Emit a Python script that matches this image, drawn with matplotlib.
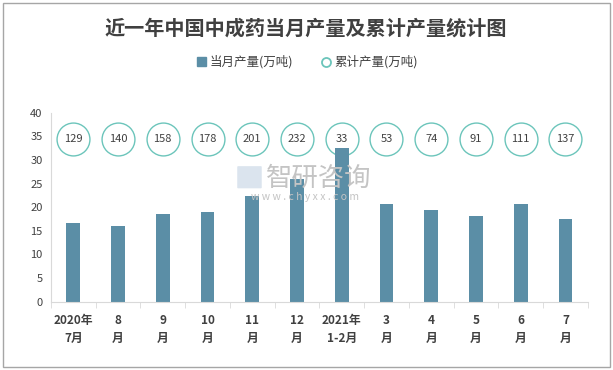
import matplotlib.pyplot as plt
import matplotlib.patches as mpatches
import numpy as np

plt.rcParams['font.family'] = ['Noto Sans CJK SC', 'DejaVu Sans']

# ── Data ──────────────────────────────────────────────────────────────────────
months = ['2020年\n7月', '8\n月', '9\n月', '10\n月', '11\n月', '12\n月',
          '2021年\n1-2月', '3\n月', '4\n月', '5\n月', '6\n月', '7\n月']
monthly = [16.7, 16.0, 18.6, 19.0, 22.3, 26.0, 32.6, 20.7, 19.4, 18.2, 20.7, 17.5]
cumulative = [129, 140, 158, 178, 201, 232, 33, 53, 74, 91, 111, 137]

BAR = '#5b8ea6'
RING = '#6cc5bb'
TXT = '#404040'

fig = plt.figure(figsize=(6.13, 3.70), dpi=100, facecolor='white')
fig.patches.append(mpatches.Rectangle((0.005, 0.008), 0.99, 0.984, transform=fig.transFigure,
                                      fill=False, edgecolor='#a6a6a6', linewidth=1))

# watermark (behind the plot)
fig.patches.append(mpatches.FancyBboxPatch((0.389, 0.493), 0.036, 0.056, transform=fig.transFigure,
                                           boxstyle='round,pad=0.002', facecolor='#d3deea',
                                           edgecolor='none', alpha=0.8))
fig.text(0.434, 0.518, '智研咨询', ha='left', va='center', fontsize=19, color='#c4c4c4')
fig.text(0.497, 0.467, 'w w w . c h y x x . c o m', ha='center', va='center', fontsize=7.5,
         color='#c4c4c4')

ax = fig.add_axes([0.083, 0.185, 0.876, 0.51])
ax.patch.set_alpha(0)
x = np.arange(len(months))
ax.scatter(x, [34.5] * len(x), s=560, facecolor='white', edgecolor=RING, linewidth=1, zorder=1)
ax.bar(x, monthly, width=0.31, color=BAR, zorder=2)
for xi, v in zip(x, cumulative):
    ax.text(xi, 34.5, str(v), ha='center', va='center', fontsize=8, color=TXT, zorder=4)

ax.set_xlim(-0.5, len(months) - 0.5)
ax.set_ylim(0, 40)
ax.set_yticks(range(0, 41, 5))
ax.tick_params(axis='y', length=0, labelsize=8, labelcolor=TXT, pad=6)
ax.set_xticks(x)
ax.set_xticklabels(months, fontsize=8.5, fontweight='bold', color=TXT, linespacing=1.45)
ax.set_xticks(np.arange(-0.5, len(months)), minor=True)
ax.tick_params(axis='x', which='major', length=0, pad=9)
ax.tick_params(axis='x', which='minor', length=4, color='#d9d9d9')
for sp in ['top', 'right']:
    ax.spines[sp].set_visible(False)
ax.spines['left'].set_color('#d9d9d9')
ax.spines['bottom'].set_color('#d9d9d9')

# title & legend
fig.text(0.499, 0.925, '近一年中国中成药当月产量及累计产量统计图', ha='center', va='center',
         fontsize=14.5, fontweight='bold', color=TXT)
handles = [mpatches.Patch(color=BAR, label='当月产量(万吨)'),
           plt.Line2D([], [], marker='o', linestyle='none', markerfacecolor='white',
                      markeredgecolor=RING, markeredgewidth=1.3, markersize=6.5,
                      label='累计产量(万吨)')]
fig.legend(handles=handles, loc='center', bbox_to_anchor=(0.502, 0.832), ncol=2, frameon=False,
           fontsize=9, handlelength=0.7, handletextpad=0.3, columnspacing=2.3,
           labelcolor=TXT)

plt.savefig('out.png', dpi=100, facecolor='white')
